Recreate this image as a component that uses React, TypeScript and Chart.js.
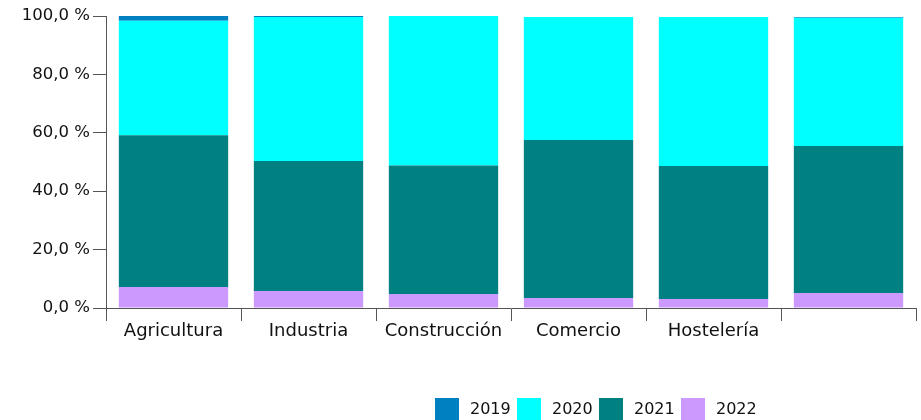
import React, { useEffect, useRef } from "react";
import { Chart, registerables } from "chart.js";

Chart.register(...registerables);

const categories = ["Agricultura", "Industria", "Construcción", "Comercio", "Hostelería", ""];
const series2019 = [1.6, 0.3, 0.0, 0.0, 0.0, 0.3];
const series2020 = [39.2, 49.4, 51.2, 42.2, 51.1, 43.9];
const series2021 = [52.0, 44.5, 44.0, 54.1, 45.5, 50.4];
const series2022 = [7.2, 5.8, 4.8, 3.4, 3.1, 5.1];
const seriesNames = ["2019", "2020", "2021", "2022"];
const seriesColors = ["#0080C0", "#00FFFF", "#008080", "#CC99FF"];
const yTicks = [0, 20, 40, 60, 80, 100];

const FONT = "'DejaVu Sans', Verdana, sans-serif";

export default function App() {
  const canvasRef = useRef<HTMLCanvasElement | null>(null);

  useEffect(() => {
    if (!canvasRef.current) return;
    const values = [series2019, series2020, series2021, series2022];
    // stacking order bottom to top: 2022, 2021, 2020, 2019
    const order = [3, 2, 1, 0];
    const datasets = order.map((i) => ({
      label: seriesNames[i],
      data: values[i],
      backgroundColor: seriesColors[i],
      borderWidth: 0,
      categoryPercentage: 1,
      barPercentage: 0.81,
    }));
    const chart = new Chart(canvasRef.current, {
      type: "bar",
      data: { labels: categories, datasets },
      options: {
        animation: false,
        responsive: true,
        maintainAspectRatio: false,
        layout: { padding: { top: 16, right: 5, left: 0, bottom: 0 } },
        plugins: {
          legend: { display: false },
          tooltip: { enabled: false },
        },
        scales: {
          x: {
            stacked: true,
            grid: {
              display: true,
              offset: true,
              drawOnChartArea: false,
              drawTicks: true,
              tickLength: 13,
              color: "#555555",
            },
            border: { display: true, color: "#555555", width: 1 },
            ticks: {
              color: "#111111",
              font: { family: FONT, size: 18 },
              padding: 0,
              maxRotation: 0,
              autoSkip: false,
            },
            afterFit: (scale: any) => {
              scale.height = 112;
            },
          },
          y: {
            stacked: true,
            min: 0,
            max: 100,
            afterBuildTicks: (scale: any) => {
              scale.ticks = yTicks.map((v) => ({ value: v }));
            },
            grid: {
              display: true,
              drawOnChartArea: false,
              drawTicks: true,
              tickLength: 13,
              color: "#555555",
            },
            border: { display: true, color: "#555555", width: 1 },
            ticks: {
              color: "#111111",
              font: { family: FONT, size: 16.5 },
              padding: 3,
              callback: (v: any) => Number(v).toFixed(1).replace(".", ",") + " %",
            },
            afterFit: (scale: any) => {
              scale.width = 106;
            },
          },
        },
      },
    });
    return () => chart.destroy();
  }, []);

  return (
    <div style={{ position: "absolute", left: 0, top: 0, width: 921, height: 420, background: "#fff" }}>
      <canvas ref={canvasRef} />
      <div
        style={{
          position: "absolute",
          left: 435,
          top: 398,
          display: "flex",
          alignItems: "center",
          fontFamily: FONT,
          fontSize: 16,
          color: "#111",
        }}
      >
        {seriesNames.map((name, i) => (
          <div key={name} style={{ display: "flex", alignItems: "center", width: 82 }}>
            <span style={{ display: "inline-block", width: 24, height: 22, background: seriesColors[i], marginRight: 11 }} />
            <span style={{ lineHeight: "22px" }}>{name}</span>
          </div>
        ))}
      </div>
    </div>
  );
}
